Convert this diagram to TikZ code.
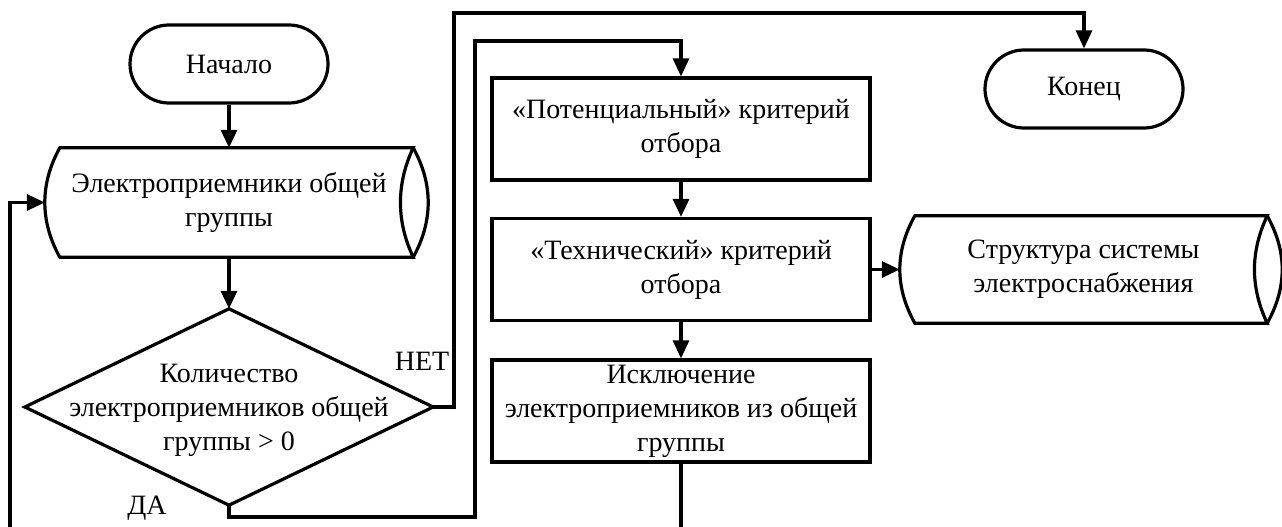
\documentclass[tikz,border=0pt]{standalone}
\usepackage{fontspec}
\setmainfont{Liberation Serif}
\usetikzlibrary{arrows.meta}
\begin{document}
\begin{tikzpicture}[x=1pt,y=-1pt,
  line/.style={line width=3.2pt,line join=miter},
  arrow/.style={line, -{Triangle[length=18pt,width=16pt]}},
  txt/.style={font=\fontsize{28}{34}\selectfont, align=center, inner sep=0pt},
  term/.style={txt, draw, line width=3.2pt, rounded corners=39pt, minimum width=198pt, minimum height=78pt},
  procbox/.style={txt, draw, line width=3.2pt, minimum width=378pt, minimum height=102pt},
  datanode/.style={txt, minimum width=368pt, minimum height=109pt},
  decnode/.style={minimum width=408pt, minimum height=196pt, inner sep=0pt}
]
\useasboundingbox (0,0) rectangle (1282,527);

% nodes
\node[term] (start) at (229,64) {Начало};
\node[datanode] (d1) at (229,202.5) {Электроприемники общей\\группы};
\node[decnode] (dec) at (229,407) {};
\node[txt] (dectext) at (229,410) {Количество\\электроприемников общей\\группы > 0};
\node[procbox] (b1) at (681,129) {«Потенциальный» критерий\\отбора};
\node[procbox] (b2) at (681,269.5) {«Технический» критерий\\отбора};
\node[procbox] (b3) at (681,411) {Исключение\\электроприемников из общей\\группы};
\node[term] (end) at (1084,89) {Конец};
\node[datanode, minimum width=367pt, minimum height=107pt] (d2) at (1083.5,269.5) {Структура системы\\электроснабжения};
\node[txt] (no) at (422,361) {НЕТ};
\node[txt] (yes) at (147,508) {ДА};

% data shapes
\foreach \n in {d1,d2}{
  \draw[line] ([xshift=15pt]\n.north west) -- (\n.north east)
    .. controls ([xshift=-17pt,yshift=-36pt]\n.north east) and ([xshift=-17pt,yshift=36pt]\n.south east) .. (\n.south east)
    -- ([xshift=15pt]\n.south west)
    .. controls ([xshift=-5pt,yshift=36pt]\n.south west) and ([xshift=-5pt,yshift=-36pt]\n.north west) .. ([xshift=15pt]\n.north west) -- cycle;
  \draw[line] (\n.north east)
    .. controls ([xshift=20pt,yshift=-36pt]\n.north east) and ([xshift=20pt,yshift=36pt]\n.south east) .. (\n.south east);
}
% decision diamond
\draw[line] (dec.north) -- (dec.east) -- (dec.south) -- (dec.west) -- cycle;

% coordinates for connectors
\coordinate (yesbot) at (475,517);
\coordinate (yestop) at (475,41);
\coordinate (notop) at (454,13);
\coordinate (fbot) at (10,527);
\coordinate (b3end) at (681,527);

% connectors
\draw[arrow] (start.south) -- (d1.north);
\draw[arrow] (d1.south) -- (dec.north);
\draw[arrow] (dec.south) |- (yesbot) -- (yestop) -| (b1.north);
\draw[arrow] (dec.east) -| (notop) -| (end.north);
\draw[arrow] (b1.south) -- (b2.north);
\draw[arrow] (b2.south) -- (b3.north);
\draw[arrow] (b2.east) -- (d2.west);
\draw[line] (b3.south) -- (b3end);
\draw[arrow] (fbot) |- (d1.west);
\end{tikzpicture}
\end{document}
